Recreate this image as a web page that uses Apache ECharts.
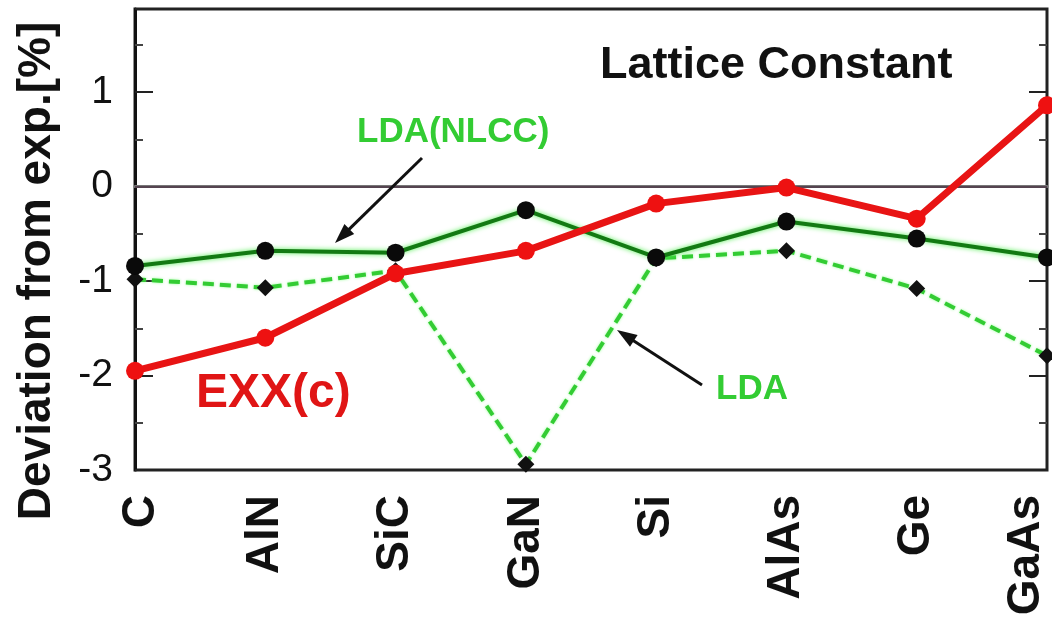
<!DOCTYPE html>
<html>
<head>
<meta charset="utf-8">
<script src="https://cdn.jsdelivr.net/npm/echarts@6/dist/echarts.min.js"></script>
<style>html,body{margin:0;padding:0;background:#fff;}#c{width:1052px;height:626px;}</style>
</head>
<body>
<div id="c"></div>
<script>
const categories = ['C', 'AlN', 'SiC', 'GaN', 'Si', 'AlAs', 'Ge', 'GaAs'];
const exxValues  = [-1.95, -1.60, -0.92, -0.68, -0.18, -0.01, -0.34, 0.86];
const nlccValues = [-0.84, -0.68, -0.70, -0.25, -0.75, -0.37, -0.55, -0.75];
const ldaValues  = [-0.98, -1.07, -0.89, -2.94, -0.76, -0.68, -1.08, -1.79];
const yTicks = [-3, -2, -1, 0, 1];

const chart = echarts.init(document.getElementById('c'));
const FONT = 'Liberation Sans, Arial, sans-serif';

function arrow(x1, y1, x2, y2) {
  const dx = x2 - x1, dy = y2 - y1, L = Math.hypot(dx, dy);
  const ux = dx / L, uy = dy / L, px = -uy, py = ux;
  const hl = 20, hw = 7;
  const bx = x2 - ux * hl, by = y2 - uy * hl;
  return [
    { type: 'line', shape: { x1: x1, y1: y1, x2: bx + ux * 4, y2: by + uy * 4 },
      style: { stroke: '#111', lineWidth: 3 }, z: 20 },
    { type: 'polygon', shape: { points: [[x2, y2], [bx + px * hw, by + py * hw], [bx - px * hw, by - py * hw]] },
      style: { fill: '#111' }, z: 20 }
  ];
}

const yAxisCommon = {
  type: 'value', min: -3, max: 1.88, interval: 1,
  splitLine: { show: false },
  axisTick: { show: true, inside: true, length: 18, lineStyle: { color: '#222', width: 2 } },
  minorTick: { show: true, splitNumber: 2, length: 8, lineStyle: { color: '#444', width: 2 } },
};

const lblStyle = { fontSize: 46, fontWeight: 'bold', color: '#111', fontFamily: FONT, lineHeight: 46 };

chart.setOption({
  animation: false,
  backgroundColor: '#fff',
  grid: { left: 135, right: 5, top: 9, bottom: 156, outerBoundsMode: 'none', containLabel: false,
    show: true, borderColor: '#222', borderWidth: 3, backgroundColor: 'transparent' },
  xAxis: {
    type: 'category', data: categories, boundaryGap: false,
    axisLine: { lineStyle: { color: '#777', width: 3 } },
    axisTick: { show: false },
    axisLabel: Object.assign({
      rotate: 90, margin: 25,
      // end labels sit slightly inside the frame, as in the original figure
      formatter: function (v, i) {
        if (i === categories.length - 1) return '{b|' + v + '}\n{s| }';
        if (i === 0) return '{t| }\n{b|' + v + '}';
        return '{b|' + v + '}';
      },
      rich: {
        b: Object.assign({}, lblStyle),
        s: { fontSize: 10, lineHeight: 42 },
        t: { fontSize: 10, lineHeight: 12 }
      }
    }, lblStyle),
  },
  yAxis: [
    Object.assign({}, yAxisCommon, {
      position: 'left',
      axisLine: { show: true, lineStyle: { color: '#111', width: 3 } },
      axisLabel: { show: true, margin: 22, fontSize: 39, color: '#111', fontFamily: FONT, showMaxLabel: false,
        formatter: v => (yTicks.indexOf(v) >= 0 ? String(v) : '') },
    }),
    Object.assign({}, yAxisCommon, {
      position: 'right',
      axisLine: { show: false },
      axisLabel: { show: false },
    })
  ],
  series: [
    {
      name: 'LDA', type: 'line', data: ldaValues, z: 3,
      symbol: 'diamond', symbolSize: 17, showAllSymbol: true,
      itemStyle: { color: '#111' },
      lineStyle: { color: '#33cc33', width: 4, type: [11, 6], shadowColor: '#99ff99', shadowBlur: 3 },
      markLine: {
        silent: true, symbol: 'none', label: { show: false },
        lineStyle: { color: '#554450', width: 2, type: 'solid' },
        data: [{ yAxis: 0 }]
      }
    },
    {
      name: 'LDA(NLCC)', type: 'line', data: nlccValues, z: 4,
      symbol: 'circle', symbolSize: 18, showAllSymbol: true,
      itemStyle: { color: '#0a0a0a' },
      lineStyle: { color: '#137a13', width: 4, shadowColor: '#55ee55', shadowBlur: 5 }
    },
    {
      name: 'EXX(c)', type: 'line', data: exxValues, z: 5,
      symbol: 'circle', symbolSize: 18, showAllSymbol: true,
      itemStyle: { color: '#ee1111' },
      lineStyle: { color: '#e81414', width: 7 }
    }
  ],
  graphic: [
    { type: 'text', x: 37, y: 271, rotation: Math.PI / 2,
      style: { text: 'Deviation from exp.[%]', font: 'bold 46px ' + FONT, fill: '#111', textAlign: 'center', textVerticalAlign: 'middle' } },
    { type: 'text', x: 600, y: 66,
      style: { text: 'Lattice Constant', font: 'bold 45px ' + FONT, fill: '#111', textAlign: 'left', textVerticalAlign: 'middle' } },
    { type: 'text', x: 196, y: 394, z: 30,
      style: { text: 'EXX(c)', font: 'bold 48px ' + FONT, fill: '#e01515', textAlign: 'left', textVerticalAlign: 'middle' } },
    { type: 'text', x: 357, y: 132, z: 30,
      style: { text: 'LDA(NLCC)', font: 'bold 35px ' + FONT, fill: '#33cc33', textAlign: 'left', textVerticalAlign: 'middle' } },
    { type: 'text', x: 716, y: 389, z: 30,
      style: { text: 'LDA', font: 'bold 35px ' + FONT, fill: '#33cc33', textAlign: 'left', textVerticalAlign: 'middle' } },
  ].concat(arrow(422, 158, 335, 243)).concat(arrow(702, 385, 617, 330))
});
</script>
</body>
</html>
